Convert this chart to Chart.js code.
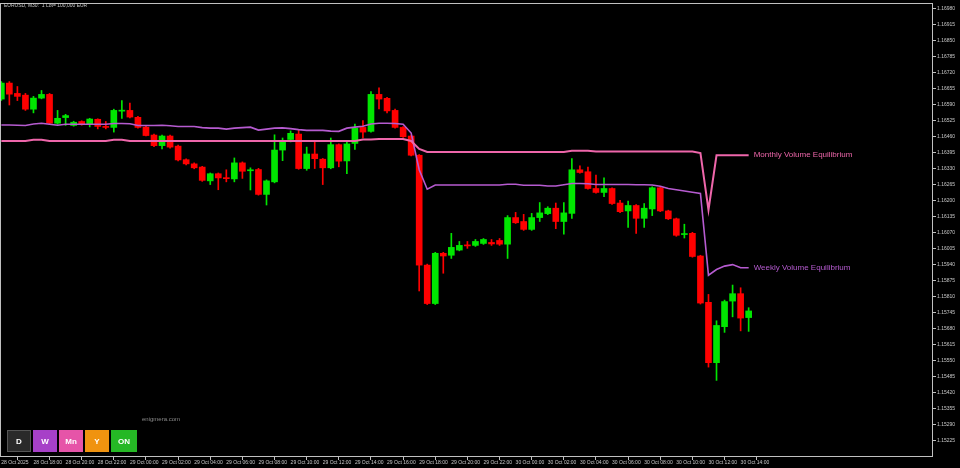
<!DOCTYPE html>
<html>
<head>
<meta charset="utf-8">
<script src="https://cdn.jsdelivr.net/npm/chart.js@4/dist/chart.umd.min.js"></script>
<style>
html,body{margin:0;padding:0;background:#000;overflow:hidden}
#wrap{position:relative;width:960px;height:468px;background:#000}
canvas{display:block}
#title{position:absolute;left:4px;top:2px;font:5px "Liberation Sans",Arial,sans-serif;color:#c8c8c8;white-space:pre}
#site{position:absolute;left:142px;top:416px;font:6px "Liberation Sans",Arial,sans-serif;color:#8a8a8a}
.btn{position:absolute;top:430px;width:24px;height:22px;font:bold 8px "Liberation Sans",Arial,sans-serif;color:#fff;display:flex;align-items:center;justify-content:center;box-sizing:border-box}
</style>
</head>
<body>
<div id="wrap">
<canvas id="c" width="960" height="468"></canvas>
<div id="title">EURUSD, M30:  1 Lot= 100,000 EUR</div>
<div id="site">enigmera.com</div>
<div class="btn" style="left:7px;background:#2a2a2a;border:1px solid #555">D</div>
<div class="btn" style="left:33px;background:#a740c8">W</div>
<div class="btn" style="left:59px;background:#e654a8">Mn</div>
<div class="btn" style="left:85px;background:#f0930f">Y</div>
<div class="btn" style="left:111px;width:26px;background:#25b825">ON</div>
</div>
<script>
// ---- data (EURUSD M30) ----
const timeLabels = ["28 Oct 2025","28 Oct 18:00","28 Oct 20:00","28 Oct 22:00","29 Oct 00:00","29 Oct 02:00","29 Oct 04:00","29 Oct 06:00","29 Oct 08:00","29 Oct 10:00","29 Oct 12:00","29 Oct 14:00","29 Oct 16:00","29 Oct 18:00","29 Oct 20:00","29 Oct 22:00","30 Oct 00:00","30 Oct 02:00","30 Oct 04:00","30 Oct 06:00","30 Oct 08:00","30 Oct 10:00","30 Oct 12:00","30 Oct 14:00"];
const priceTicks = [1.16980,1.16915,1.16850,1.16785,1.16720,1.16655,1.16590,1.16525,1.16460,1.16395,1.16330,1.16265,1.16200,1.16135,1.16070,1.16005,1.15940,1.15875,1.15810,1.15745,1.15680,1.15615,1.15550,1.15485,1.15420,1.15355,1.15290,1.15225];

const opens = [
1.16613,1.16678,1.16636,1.16629,1.16572,1.16617,1.16632,1.16515,1.16538,1.16506,
1.16522,1.16511,1.16531,1.16500,1.16498,1.16564,1.16567,1.16539,1.16499,1.16467,
1.16424,1.16463,1.16422,1.16367,1.16350,1.16337,1.16281,1.16310,1.16293,1.16289,
1.16354,1.16322,1.16327,1.16226,1.16277,1.16406,1.16449,1.16471,1.16331,1.16390,
1.16369,1.16334,1.16428,1.16362,1.16433,1.16498,1.16482,1.16632,1.16616,1.16567,
1.16498,1.16463,1.16385,1.15939,1.15783,1.15987,1.15979,1.16000,1.16021,1.16019,
1.16027,1.16031,1.16039,1.16024,1.16132,1.16116,1.16084,1.16132,1.16148,1.16170,
1.16116,1.16149,1.16326,1.16318,1.16250,1.16234,1.16250,1.16191,1.16159,1.16181,
1.16129,1.16167,1.16253,1.16159,1.16127,1.16063,1.16068,1.15976,1.15788,1.15543,
1.15689,1.15793,1.15823,1.15726];
const highs = [
1.16684,1.16684,1.16664,1.16636,1.16624,1.16648,1.16636,1.16567,1.16551,1.16523,
1.16525,1.16535,1.16533,1.16522,1.16572,1.16607,1.16597,1.16543,1.16503,1.16471,
1.16467,1.16467,1.16426,1.16370,1.16354,1.16340,1.16313,1.16313,1.16326,1.16374,
1.16358,1.16334,1.16332,1.16285,1.16468,1.16455,1.16484,1.16486,1.16418,1.16439,
1.16372,1.16455,1.16431,1.16444,1.16512,1.16526,1.16643,1.16659,1.16620,1.16572,
1.16501,1.16467,1.16388,1.15943,1.15991,1.15991,1.16068,1.16035,1.16035,1.16043,
1.16047,1.16043,1.16047,1.16140,1.16153,1.16145,1.16149,1.16193,1.16176,1.16191,
1.16193,1.16371,1.16342,1.16337,1.16304,1.16293,1.16253,1.16202,1.16199,1.16185,
1.16189,1.16257,1.16257,1.16162,1.16130,1.16105,1.16072,1.15979,1.15820,1.15713,
1.15797,1.15858,1.15847,1.15766];
const lows = [
1.16608,1.16589,1.16607,1.16567,1.16557,1.16614,1.16511,1.16511,1.16506,1.16503,
1.16507,1.16500,1.16492,1.16492,1.16479,1.16535,1.16537,1.16495,1.16463,1.16420,
1.16411,1.16414,1.16362,1.16346,1.16330,1.16279,1.16266,1.16245,1.16277,1.16277,
1.16291,1.16244,1.16223,1.16183,1.16273,1.16363,1.16439,1.16328,1.16324,1.16331,
1.16266,1.16330,1.16338,1.16310,1.16409,1.16455,1.16479,1.16573,1.16557,1.16495,
1.16457,1.16382,1.15834,1.15779,1.15779,1.15906,1.15966,1.15997,1.16007,1.16015,
1.16023,1.16019,1.16019,1.15966,1.16108,1.16080,1.16080,1.16116,1.16144,1.16087,
1.16065,1.16129,1.16312,1.16247,1.16231,1.16217,1.16185,1.16152,1.16092,1.16068,
1.16092,1.16140,1.16156,1.16124,1.16056,1.16049,1.15971,1.15781,1.15525,1.15471,
1.15666,1.15729,1.15672,1.15670];
const closes = [
1.16678,1.16633,1.16624,1.16572,1.16617,1.16632,1.16515,1.16535,1.16546,1.16519,
1.16511,1.16532,1.16502,1.16498,1.16567,1.16567,1.16540,1.16498,1.16465,1.16424,
1.16463,1.16418,1.16366,1.16350,1.16334,1.16283,1.16310,1.16293,1.16290,1.16354,
1.16320,1.16326,1.16226,1.16281,1.16406,1.16444,1.16474,1.16331,1.16390,1.16371,
1.16334,1.16428,1.16361,1.16431,1.16495,1.16479,1.16632,1.16613,1.16565,1.16498,
1.16460,1.16385,1.15939,1.15783,1.15987,1.15976,1.16011,1.16019,1.16017,1.16035,
1.16043,1.16025,1.16024,1.16132,1.16111,1.16084,1.16132,1.16151,1.16170,1.16116,
1.16151,1.16326,1.16315,1.16250,1.16234,1.16250,1.16189,1.16156,1.16181,1.16129,
1.16170,1.16253,1.16159,1.16127,1.16060,1.16067,1.15974,1.15785,1.15543,1.15694,
1.15791,1.15823,1.15724,1.15753];
const weeklyVE = [
1.16508,1.16508,1.16507,1.16506,1.16512,1.16515,1.16511,1.16507,1.16511,1.16511,
1.16511,1.16511,1.16511,1.16511,1.16514,1.16514,1.16513,1.16506,1.16506,1.16506,
1.16507,1.16505,1.16502,1.16502,1.16502,1.16497,1.16495,1.16495,1.16491,1.16495,
1.16497,1.16499,1.16487,1.16491,1.16495,1.16496,1.16493,1.16489,1.16486,1.16486,
1.16486,1.16483,1.16482,1.16495,1.16499,1.16503,1.16512,1.16515,1.16515,1.16514,
1.16511,1.16475,1.16326,1.16247,1.16264,1.16264,1.16264,1.16264,1.16264,1.16264,
1.16264,1.16264,1.16264,1.16267,1.16267,1.16263,1.16263,1.16263,1.16260,1.16260,
1.16265,1.16270,1.16270,1.16269,1.16266,1.16266,1.16266,1.16266,1.16266,1.16265,
1.16265,1.16264,1.16259,1.16250,1.16245,1.16240,1.16235,1.16230,1.15898,1.15921,
1.15935,1.15941,1.15928,1.15928];
const monthlyVE = [
1.16443,1.16443,1.16443,1.16443,1.16448,1.16448,1.16443,1.16443,1.16443,1.16443,
1.16443,1.16443,1.16443,1.16443,1.16448,1.16448,1.16443,1.16443,1.16443,1.16443,
1.16443,1.16443,1.16443,1.16443,1.16443,1.16443,1.16443,1.16443,1.16443,1.16443,
1.16443,1.16443,1.16443,1.16443,1.16443,1.16443,1.16443,1.16443,1.16443,1.16443,
1.16443,1.16443,1.16443,1.16443,1.16443,1.16449,1.16449,1.16451,1.16451,1.16451,
1.16451,1.16443,1.16411,1.16398,1.16398,1.16398,1.16398,1.16398,1.16398,1.16398,
1.16398,1.16398,1.16398,1.16398,1.16398,1.16398,1.16398,1.16398,1.16398,1.16398,
1.16398,1.16403,1.16403,1.16403,1.16400,1.16400,1.16400,1.16400,1.16400,1.16400,
1.16400,1.16400,1.16400,1.16400,1.16400,1.16400,1.16400,1.16394,1.16163,1.16385,
1.16385,1.16385,1.16385,1.16385];
const monthlyLabel = "Monthly Volume Equilibrium";
const weeklyLabel = "Weekly Volume Equilibrium";

// ---- styles ----
const UP = '#00e600', DOWN = '#ff0000';
const PINK = '#ee66aa', PURPLE = '#b65bd0';
const AXIS = '#c0c0c0', TXT = '#c8c8c8';
const FONT = '"Liberation Sans", Arial, sans-serif';

const idx = opens.map((_, i) => i);
const isUp = i => closes[i] >= opens[i];
const barColors = idx.map(i => isUp(i) ? UP : DOWN);

const frame = {
  id: 'frame',
  beforeDraw(chart) {
    const c = chart.ctx;
    c.save(); c.fillStyle = '#000'; c.fillRect(0, 0, chart.width, chart.height); c.restore();
  },
  afterDraw(chart) {
    const c = chart.ctx, a = chart.chartArea;
    c.save();
    c.strokeStyle = AXIS; c.lineWidth = 1;
    c.strokeRect(a.left - 0.5, a.top - 0.5, a.right - a.left, a.bottom - a.top);
    c.restore();
  }
};
const lineLabels = {
  id: 'lineLabels',
  afterDatasetsDraw(chart) {
    const c = chart.ctx, xs = chart.scales.x, ys = chart.scales.y;
    const last = opens.length - 1;
    c.save();
    c.font = '8px ' + FONT; c.textBaseline = 'middle'; c.textAlign = 'left';
    c.fillStyle = PINK;
    c.fillText(monthlyLabel, xs.getPixelForValue(last) + 5, ys.getPixelForValue(monthlyVE[last]));
    c.fillStyle = PURPLE;
    c.fillText(weeklyLabel, xs.getPixelForValue(last) + 5, ys.getPixelForValue(weeklyVE[last]));
    c.restore();
  }
};

new Chart(document.getElementById('c'), {
  type: 'bar',
  data: {
    datasets: [
      { type: 'line', label: 'Monthly', data: idx.map(i => ({x: i, y: monthlyVE[i]})),
        borderColor: PINK, borderWidth: 2, pointRadius: 0, tension: 0, order: 0 },
      { type: 'line', label: 'Weekly', data: idx.map(i => ({x: i, y: weeklyVE[i]})),
        borderColor: PURPLE, borderWidth: 1.6, pointRadius: 0, tension: 0, order: 1 },
      { label: 'Body', data: idx.map(i => ({x: i, y: [opens[i], closes[i]]})),
        backgroundColor: barColors, borderWidth: 0, barThickness: 6, grouped: false, minBarLength: 1, order: 2 },
      { label: 'Wick', data: idx.map(i => ({x: i, y: [lows[i], highs[i]]})),
        backgroundColor: barColors, borderWidth: 0, barThickness: 1, grouped: false, minBarLength: 1, order: 3 }
    ]
  },
  options: {
    responsive: false,
    devicePixelRatio: 1,
    animation: false,
    events: [],
    layout: { padding: { left: 1, top: 1, right: 0, bottom: 0 } },
    plugins: { legend: { display: false }, tooltip: { enabled: false } },
    scales: {
      x: {
        type: 'linear', min: -0.04, max: 115.94, offset: false,
        grid: { drawOnChartArea: false, drawTicks: true, tickLength: 3, color: AXIS },
        border: { display: false },
        afterBuildTicks: s => { s.ticks = timeLabels.map((_, k) => ({ value: k * 4 })); },
        afterFit: s => { s.height = 11; },
        ticks: {
          autoSkip: false, maxRotation: 0, minRotation: 0, align: 'start', padding: 0,
          color: TXT, font: { size: 5, family: FONT },
          callback: (v, k) => timeLabels[k]
        }
      },
      y: {
        type: 'linear', position: 'right', min: 1.15160, max: 1.16999,
        grid: { drawOnChartArea: false, drawTicks: true, tickLength: 3, color: AXIS },
        border: { display: false },
        afterBuildTicks: s => { s.ticks = priceTicks.map(v => ({ value: v })); },
        afterFit: s => { s.width = 27; },
        ticks: {
          padding: 1, color: TXT, font: { size: 5, family: FONT },
          callback: v => Number(v).toFixed(5)
        }
      }
    }
  },
  plugins: [frame, lineLabels]
});
</script>
</body>
</html>
